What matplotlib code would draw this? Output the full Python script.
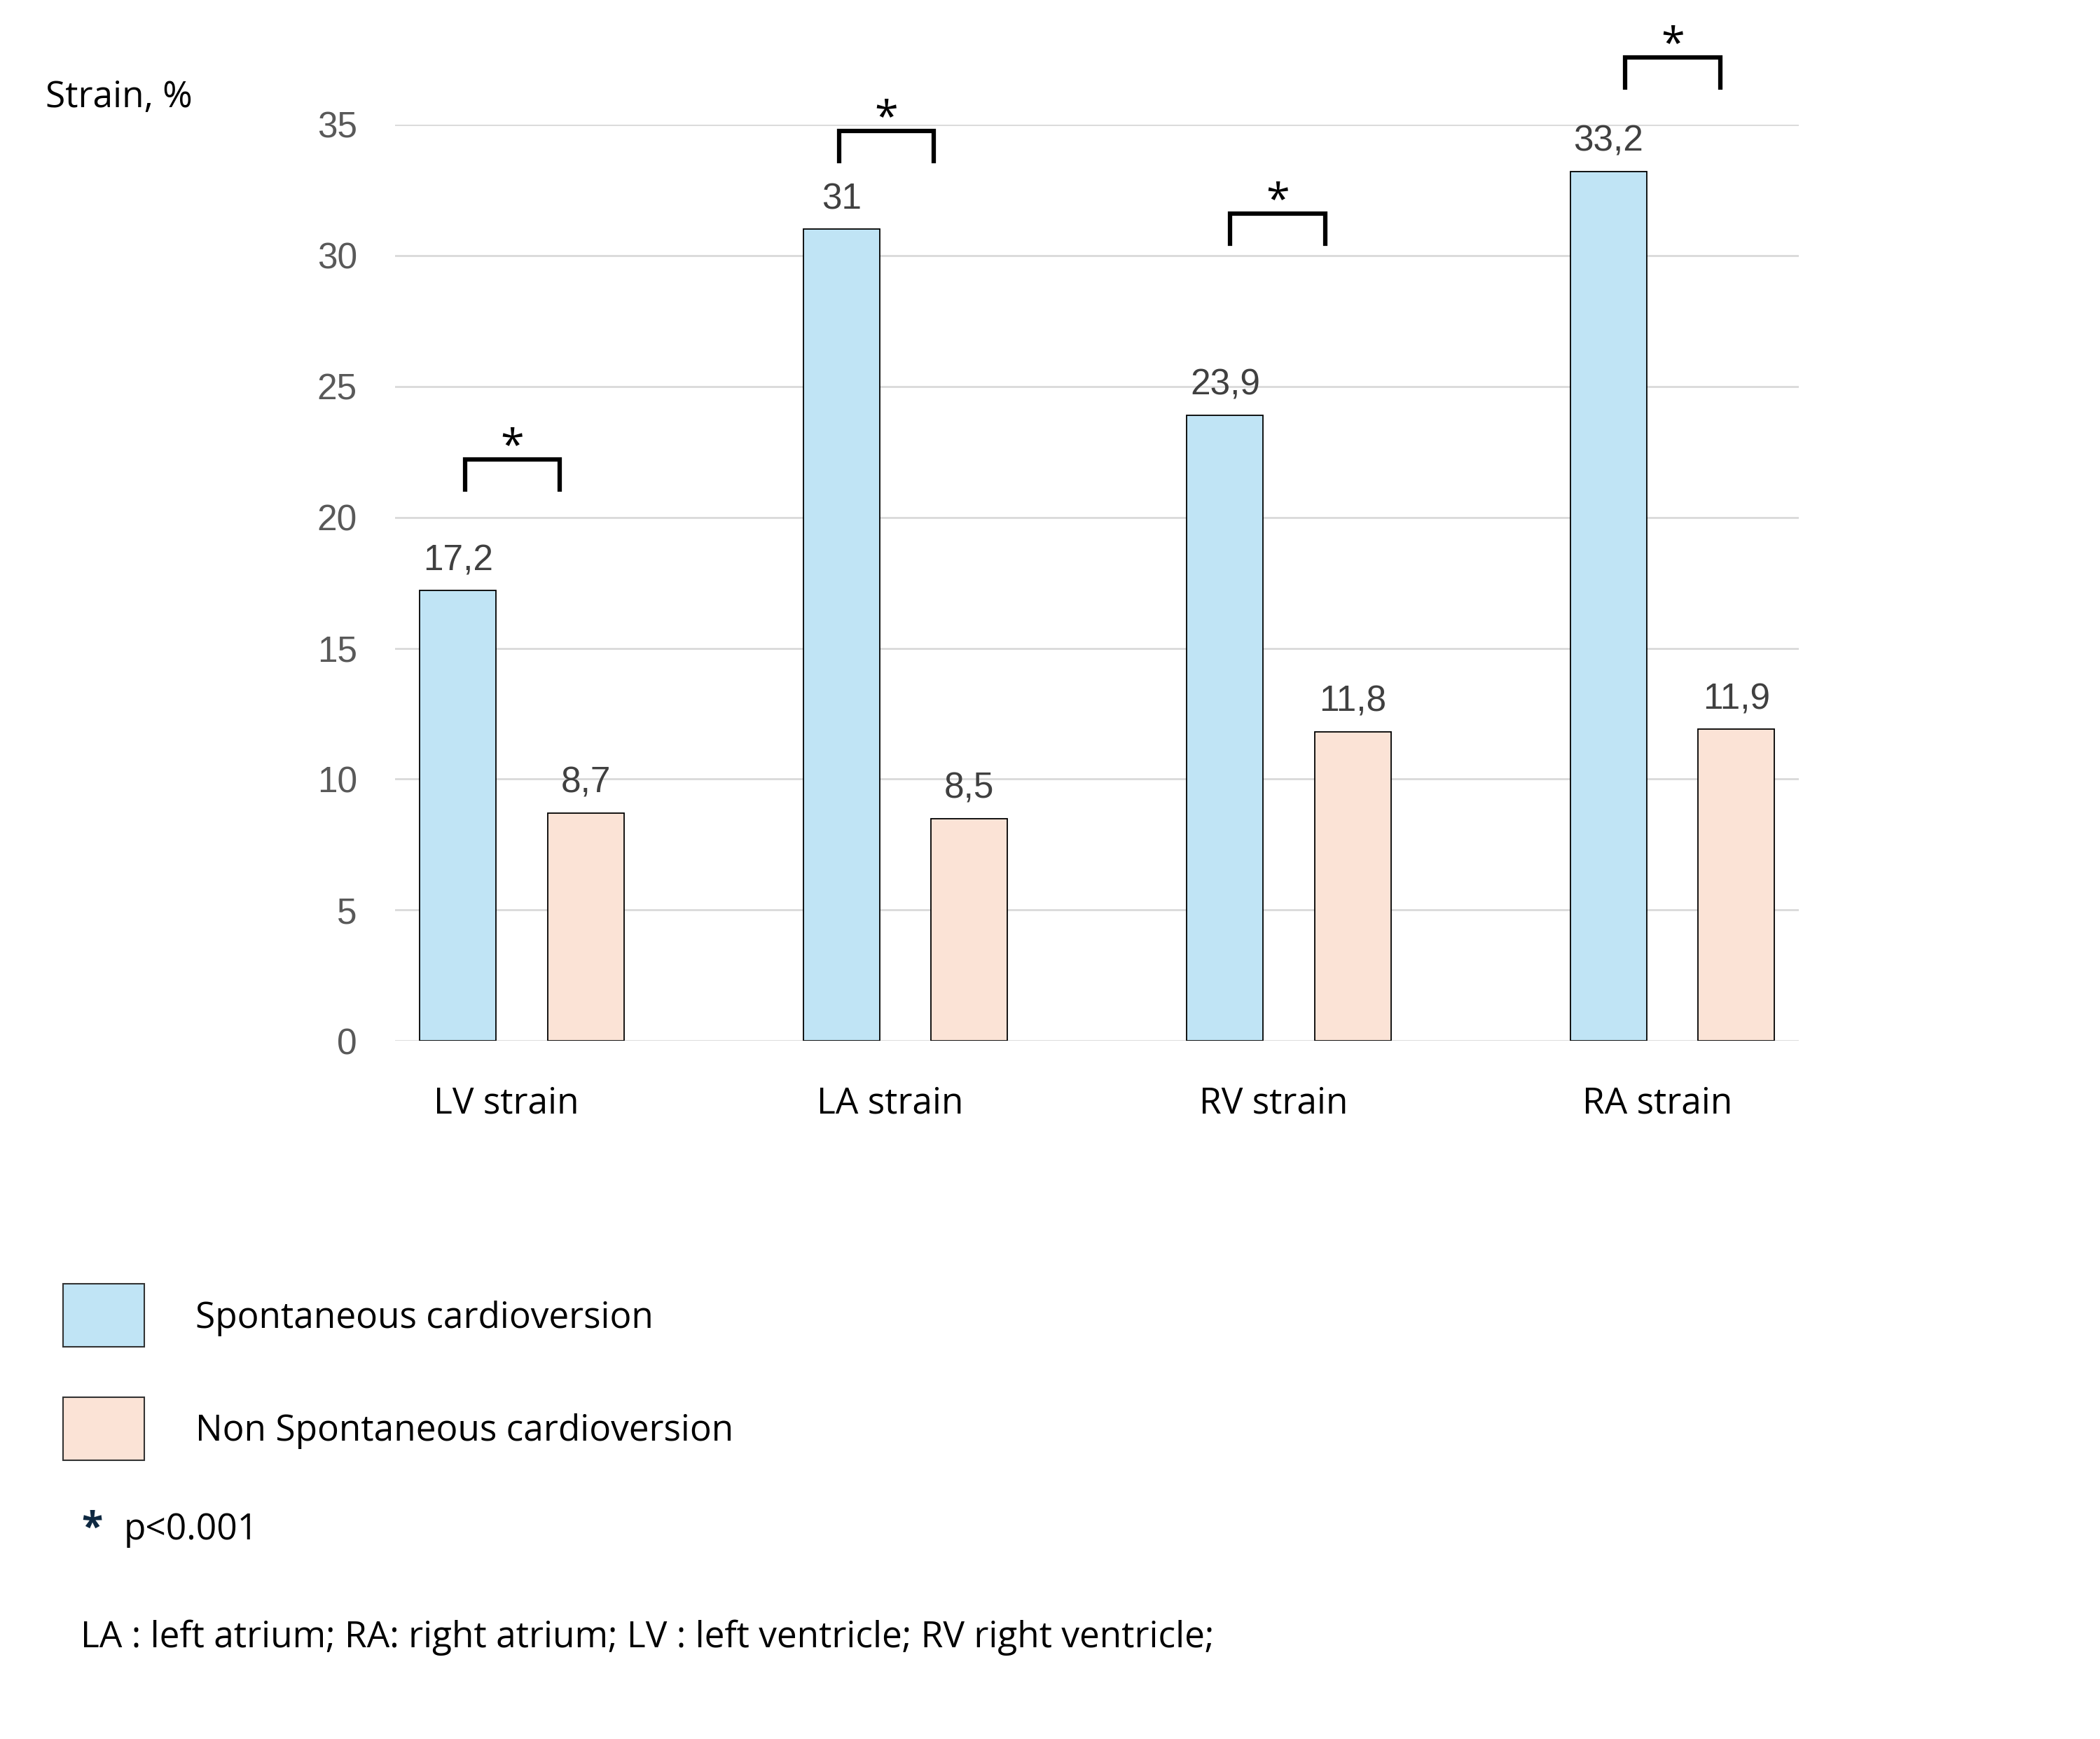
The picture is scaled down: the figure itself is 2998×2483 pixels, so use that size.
import matplotlib.pyplot as plt
import numpy as np
from matplotlib.patches import Rectangle

# data
categories = ['LV strain', 'LA strain', 'RV strain', 'RA strain']
spontaneous = [17.2, 31.0, 23.9, 33.2]
non_spontaneous = [8.7, 8.5, 11.8, 11.9]
spont_labels = ['17,2', '31', '23,9', '33,2']
non_labels = ['8,7', '8,5', '11,8', '11,9']
# significance brackets: top y and left/right ends relative to group centre
bracket_top = [22.2, 34.75, 31.6, 37.55]
bracket_left = [-0.149, -0.172, -0.153, -0.123]
bracket_right = [0.099, 0.073, 0.095, 0.125]
yticks = [0, 5, 10, 15, 20, 25, 30, 35]

blue = '#C0E4F5'
peach = '#FBE3D6'
main_font = ['Open Sans', 'DejaVu Sans']
num_font = ['Liberation Sans', 'DejaVu Sans']

fig = plt.figure(figsize=(29.98, 24.83), dpi=100)
ax = fig.add_axes([0.1881, 0.4014, 0.6684, 0.5270])

x = np.arange(len(categories))
off = 0.1667
w = 0.199
ax.bar(x - off, spontaneous, w, color=blue, edgecolor='black', linewidth=1.3, zorder=3)
ax.bar(x + off, non_spontaneous, w, color=peach, edgecolor='black', linewidth=1.3, zorder=3)

# value labels
for xi, v, s in zip(x - off, spontaneous, spont_labels):
    ax.annotate(s, (xi, v), xytext=(0, 21), textcoords='offset points',
                ha='center', va='baseline', fontsize=37, color='#404040', family=num_font)
for xi, v, s in zip(x + off, non_spontaneous, non_labels):
    ax.annotate(s, (xi, v), xytext=(0, 21), textcoords='offset points',
                ha='center', va='baseline', fontsize=37, color='#404040', family=num_font)

# significance brackets
for xi, top, l, r in zip(x, bracket_top, bracket_left, bracket_right):
    x0, x1 = xi + l, xi + r
    ax.plot([x0, x0, x1, x1], [top - 1.15, top, top, top - 1.15], color='black',
            lw=4.5, solid_joinstyle='miter', clip_on=False, zorder=4)
    ax.text((x0 + x1) / 2, top - 0.35, '*', ha='center', va='bottom', fontsize=44,
            family=main_font, color='black', clip_on=False)

ax.set_ylim(0, 35)
ax.set_xlim(-0.331, 3.329)
ax.set_yticks(yticks)
ax.set_yticklabels([str(t) for t in yticks], family=num_font, fontsize=37, color='#595959')
ax.set_xticks(x - 0.04)
ax.set_xticklabels(categories, family=main_font, fontsize=37, color='black')
ax.tick_params(axis='y', length=0, pad=39)
ax.tick_params(axis='x', length=0, pad=46)
ax.grid(axis='y', color='#D9D9D9', lw=2, zorder=0)
for sp in ax.spines.values():
    sp.set_visible(False)

fig.text(0.0217, 0.9384, 'Strain, %', fontsize=37, family=main_font, va='baseline')

# legend
fig.patches.append(Rectangle((0.030, 0.2257), 0.0387, 0.0362, transform=fig.transFigure,
                             facecolor=blue, edgecolor='#333333', lw=1.5))
fig.patches.append(Rectangle((0.030, 0.1602), 0.0387, 0.0362, transform=fig.transFigure,
                             facecolor=peach, edgecolor='#333333', lw=1.5))
fig.text(0.0931, 0.2364, 'Spontaneous cardioversion', fontsize=37, family=main_font, va='baseline')
fig.text(0.0931, 0.1716, 'Non Spontaneous cardioversion', fontsize=37, family=main_font, va='baseline')
fig.text(0.044, 0.1148, '*', fontsize=40, family=main_font, color='#0E2841', ha='center',
         va='baseline', fontweight='bold')
fig.text(0.059, 0.1148, 'p<0.001', fontsize=37, family=main_font, va='baseline')
fig.text(0.0384, 0.0528, 'LA : left atrium; RA: right atrium; LV : left ventricle; RV right ventricle;',
         fontsize=37, family=main_font, va='baseline')

fig.savefig('out.png', dpi=100, facecolor='white')
